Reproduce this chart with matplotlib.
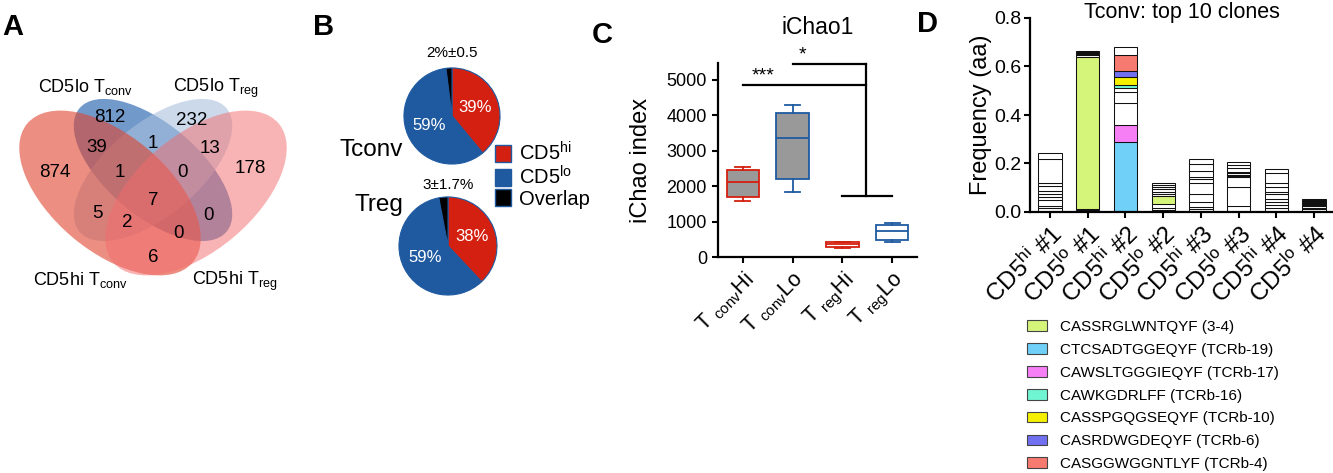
import matplotlib
matplotlib.use('Agg')
import matplotlib.pyplot as plt
from matplotlib.patches import Ellipse, Patch

plt.rcParams['font.family'] = ['Liberation Sans', 'DejaVu Sans']
plt.rcParams['mathtext.fontset'] = 'custom'
plt.rcParams['mathtext.rm'] = 'Liberation Sans'
plt.rcParams['mathtext.it'] = 'Liberation Sans:italic'
plt.rcParams['mathtext.bf'] = 'Liberation Sans:bold'

W, H = 1333, 473

# ---- A: Venn counts
venn_sets = ['CD5hi T$_{\\rm conv}$', 'CD5lo T$_{\\rm conv}$', 'CD5lo T$_{\\rm reg}$', 'CD5hi T$_{\\rm reg}$']
venn_counts = [874, 812, 232, 178, 39, 1, 13, 1, 0, 7, 5, 0, 2, 0, 6]

# ---- B: pie shares
pie_labels = ['CD5$^{\\rm hi}$', 'CD5$^{\\rm lo}$', 'Overlap']
tconv_share = [39, 59, 2]
treg_share = [38, 59, 3]
tconv_overlap = '2%\u00b10.5'
treg_overlap = '3\u00b11.7%'

# ---- C: iChao1 box stats
chao_groups = ['T $_{\\rm conv}$Hi', 'T $_{\\rm conv}$Lo', 'T $_{\\rm reg}$Hi', 'T $_{\\rm reg}$Lo']
chao_med = [2120, 3360, 360, 735]
chao_q1 = [1700, 2200, 290, 480]
chao_q3 = [2460, 4070, 430, 905]
chao_lo = [1580, 1840, 250, 435]
chao_hi = [2545, 4295, 435, 970]

# ---- D: top 10 clone frequencies (bottom to top)
samples = ['CD5$^{\\rm hi}$ #1', 'CD5$^{\\rm lo}$ #1', 'CD5$^{\\rm hi}$ #2', 'CD5$^{\\rm lo}$ #2',
           'CD5$^{\\rm hi}$ #3', 'CD5$^{\\rm lo}$ #3', 'CD5$^{\\rm hi}$ #4', 'CD5$^{\\rm lo}$ #4']
freq_hi1 = [0.015, 0.011, 0.023, 0.014, 0.011, 0.014, 0.019, 0.014, 0.096, 0.026]
freq_lo1 = [0.003, 0.003, 0.002, 0.003, 0.630, 0.005, 0.005, 0.005, 0.004, 0.005]
freq_hi2 = [0.288, 0.072, 0.088, 0.045, 0.019, 0.013, 0.030, 0.025, 0.066, 0.033]
freq_lo2 = [0.008, 0.010, 0.015, 0.033, 0.010, 0.008, 0.010, 0.009, 0.009, 0.009]
freq_hi3 = [0.011, 0.011, 0.020, 0.032, 0.047, 0.014, 0.008, 0.027, 0.028, 0.019]
freq_lo3 = [0.025, 0.077, 0.041, 0.005, 0.005, 0.007, 0.006, 0.014, 0.014, 0.013]
freq_hi4 = [0.015, 0.014, 0.013, 0.012, 0.019, 0.011, 0.020, 0.017, 0.041, 0.014]
freq_lo4 = [0.012, 0.006, 0.006, 0.005, 0.005, 0.004, 0.004, 0.004, 0.004, 0.004]
# index into clone_names for shared clones, -1 = other clone
ids_hi1 = [-1] * 10
ids_lo1 = [-1, -1, -1, -1, 0, -1, -1, -1, -1, -1]
ids_hi2 = [1, 2, -1, -1, -1, 3, 4, 5, 6, -1]
ids_lo2 = [-1, -1, -1, 0, -1, -1, -1, -1, -1, -1]
ids_hi3 = [-1] * 10
ids_lo3 = [-1] * 10
ids_hi4 = [-1] * 10
ids_lo4 = [-1] * 10
clone_names = ['CASSRGLWNTQYF (3-4)', 'CTCSADTGGEQYF (TCRb-19)', 'CAWSLTGGGIEQYF (TCRb-17)',
               'CAWKGDRLFF (TCRb-16)', 'CASSPGQGSEQYF (TCRb-10)', 'CASRDWGDEQYF (TCRb-6)',
               'CASGGWGGNTLYF (TCRb-4)']
clone_colors = ['#d4f47a', '#70d0f8', '#f77ff5', '#70f5d2', '#f5f000', '#7070f0', '#f77a70']

RED = '#d42010'
BLUE = '#1f5aa0'


def px_axes(fig, x0, y0, x1, y1):
    return fig.add_axes([x0 / W, 1 - y1 / H, (x1 - x0) / W, (y1 - y0) / H])


fig = plt.figure(figsize=(W / 100, H / 100), dpi=100)

# panel letters
for letter, x, y in [('A', 2, 27), ('B', 313, 27), ('C', 592, 35), ('D', 917, 24)]:
    fig.text(x / W, 1 - y / H, letter, fontsize=21, fontweight='bold', va='center', ha='left')

# ---------------- A: Venn
ax = px_axes(fig, 0, 0, 320, H)
ax.set_xlim(0, 320)
ax.set_ylim(H, 0)
ax.axis('off')
# blues first, reds over them
ellipses = [((153, 170), 192, 92, 40, '#2563ae', 0.65),
            ((153, 170), 192, 92, -40, '#a9c1de', 0.6),
            ((110, 193), 216, 116, 40, '#e0452f', 0.6),
            ((196, 193), 216, 116, -40, '#f36b6b', 0.5)]
for c, w, h, ang, col, al in ellipses:
    ax.add_patch(Ellipse(c, w, h, angle=ang, facecolor=col, alpha=al, edgecolor='none'))
count_pos = [(55, 172), (110, 117), (192, 120), (250, 168), (97, 147), (153, 143), (210, 148),
             (120, 172), (182, 172), (153, 200), (97, 213), (208, 215), (127, 222), (178, 233),
             (153, 257)]
for (x, y), n in zip(count_pos, venn_counts):
    ax.text(x, y, str(n), fontsize=13.5, ha='center', va='center')
label_pos = [(80, 285), (85, 92), (216, 92), (235, 285)]
for (x, y), s in zip(label_pos, venn_sets):
    ax.text(x, y, s, fontsize=13, ha='center', va='baseline')

# ---------------- B: pies
pie_colors = [RED, BLUE, 'black']
for share, box, note, note_y in [(tconv_share, (403, 67, 501, 165), tconv_overlap, 53),
                                 (treg_share, (398, 196, 498, 296), treg_overlap, 185)]:
    axp = px_axes(fig, *box)
    axp.pie(share, colors=pie_colors, startangle=90, counterclock=False,
            wedgeprops=dict(edgecolor=BLUE, linewidth=0.8),
            autopct=lambda p: f'{p:.0f}%' if p > 5 else '', pctdistance=0.52,
            textprops=dict(color='white', fontsize=12))
    axp.set_xlim(-1.02, 1.02)
    axp.set_ylim(-1.02, 1.02)
    cx = (box[0] + box[2]) / 2
    fig.text(cx / W, 1 - note_y / H, note, fontsize=11, ha='center', va='center')
fig.text(403 / W, 1 - 150 / H, 'Tconv', fontsize=17.5, ha='right', va='center')
fig.text(403 / W, 1 - 205 / H, 'Treg', fontsize=17.5, ha='right', va='center')
fig.legend([Patch(facecolor=c, edgecolor=BLUE, linewidth=1) for c in pie_colors], pie_labels,
           loc='upper left', bbox_to_anchor=(495 / W, 1 - 141 / H), frameon=False,
           fontsize=14.5, handlelength=0.8, handleheight=0.9, handletextpad=0.4,
           labelspacing=0.05, borderpad=0, borderaxespad=0)

# ---------------- C: iChao1
axc = px_axes(fig, 718, 63, 917, 257)
stats = []
for i in range(len(chao_groups)):
    stats.append(dict(med=chao_med[i], q1=chao_q1[i], q3=chao_q3[i],
                      whislo=chao_lo[i], whishi=chao_hi[i], fliers=[]))
box_edges = [RED, BLUE, RED, BLUE]
box_fills = ['#999999', '#999999', 'white', 'white']
art = axc.bxp(stats, positions=[1, 2, 3, 4], widths=0.65, patch_artist=True, showfliers=False)
for i in range(4):
    art['boxes'][i].set(facecolor=box_fills[i], edgecolor=box_edges[i], linewidth=1.3)
    art['medians'][i].set(color=box_edges[i], linewidth=1.3)
    for k in (2 * i, 2 * i + 1):
        art['whiskers'][k].set(color=box_edges[i], linewidth=1.3)
        art['caps'][k].set(color=box_edges[i], linewidth=1.3, xdata=[i + 1 - 0.15, i + 1 + 0.15])
axc.set_xlim(0.5, 4.5)
axc.set_ylim(0, 5480)
axc.set_yticks([0, 1000, 2000, 3000, 4000, 5000])
axc.set_xticks([1, 2, 3, 4])
axc.set_xticklabels(chao_groups, rotation=45, ha='right', rotation_mode='anchor', fontsize=15.5)
axc.tick_params(axis='y', labelsize=13, length=4, width=1.5, pad=4)
axc.tick_params(axis='x', length=4, width=1.5, pad=4)
for s in ('top', 'right'):
    axc.spines[s].set_visible(False)
for s in ('left', 'bottom'):
    axc.spines[s].set_linewidth(1.6)
axc.set_ylabel('iChao index', fontsize=17)
axc.yaxis.set_label_coords(-0.33, 0.5)
axc.set_title('iChao1', fontsize=16.5, pad=21)
kw = dict(color='black', linewidth=1.6, clip_on=False)
axc.plot([1, 3.47], [4860, 4860], **kw)
axc.plot([2, 3.47], [5450, 5450], **kw)
axc.plot([3.47, 3.47], [5450, 1730], **kw)
axc.plot([3, 4], [1730, 1730], **kw)
axc.text(1.4, 5120, '***', fontsize=14, ha='center', va='center')
axc.text(2.2, 5700, '*', fontsize=14, ha='center', va='center')

# ---------------- D: top 10 clones
axd = px_axes(fig, 1030, 18, 1333, 212)
all_freqs = [freq_hi1, freq_lo1, freq_hi2, freq_lo2, freq_hi3, freq_lo3, freq_hi4, freq_lo4]
all_ids = [ids_hi1, ids_lo1, ids_hi2, ids_lo2, ids_hi3, ids_lo3, ids_hi4, ids_lo4]
for x, (fr, ids) in enumerate(zip(all_freqs, all_ids)):
    bottom = 0
    for f, cid in zip(fr, ids):
        col = clone_colors[cid] if cid >= 0 else 'white'
        axd.bar(x, f, bottom=bottom, width=0.62, color=col, edgecolor='#111111', linewidth=0.75)
        bottom += f
axd.set_xlim(-0.53, 7.5)
axd.set_ylim(0, 0.8)
axd.set_yticks([0, 0.2, 0.4, 0.6, 0.8])
axd.set_yticklabels(['0.0', '0.2', '0.4', '0.6', '0.8'])
axd.set_xticks(range(len(samples)))
axd.set_xticklabels(samples, rotation=45, ha='right', rotation_mode='anchor', fontsize=17.5)
axd.tick_params(axis='y', labelsize=14, length=4, width=1.5, pad=2)
axd.tick_params(axis='x', length=4, width=1.5, pad=3)
for s in ('top', 'right'):
    axd.spines[s].set_visible(False)
for s in ('left', 'bottom'):
    axd.spines[s].set_linewidth(1.6)
axd.set_ylabel('Frequency (aa)', fontsize=17)
axd.yaxis.set_label_coords(-0.125, 0.5)
axd.set_title('Tconv: top 10 clones', fontsize=15.5, y=1.0, pad=0)

fig.legend([Patch(facecolor=c, edgecolor='#444444', linewidth=0.8) for c in clone_colors], clone_names,
           loc='upper left', bbox_to_anchor=(1027 / W, 1 - 320 / H), frameon=False,
           fontsize=11, handlelength=1.3, handleheight=0.7, handletextpad=0.85,
           labelspacing=0.58, borderpad=0, borderaxespad=0)

fig.savefig('out.png', dpi=100, facecolor='white')
